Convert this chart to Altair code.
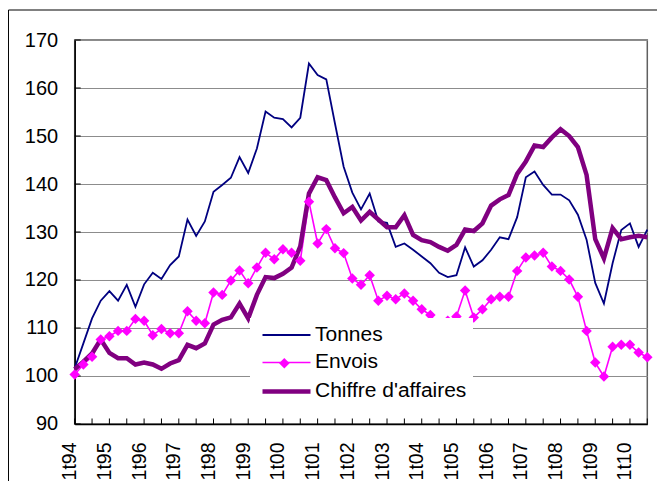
import altair as alt
import pandas as pd

years = ["94", "95", "96", "97", "98", "99", "00", "01", "02", "03",
         "04", "05", "06", "07", "08", "09", "10"]
quarters = [f"{q}t{y}" for y in years for q in (1, 2, 3, 4)][:67]
tick_quarters = quarters[::2]

series_names = ["Tonnes", "Envois", "Chiffre d'affaires"]
series_colors = ["#000080", "#FF00FF", "#800080"]
series_widths = [1.8, 1.6, 4.5]

tonnes = [101.6, 106.8, 112.0, 115.7, 117.7, 115.7, 119.0, 114.4, 119.1, 121.5,
          120.2, 123.1, 124.9, 132.6, 129.2, 132.2, 138.4, 139.8, 141.3, 145.6,
          142.3, 147.4, 155.1, 153.8, 153.5, 151.8, 153.8, 165.1, 162.7, 161.8,
          152.6, 143.6, 138.2, 134.7, 138.0, 132.2, 131.9, 126.9, 127.6, 126.3,
          124.9, 123.5, 121.5, 120.6, 121.0, 126.8, 122.8, 124.1, 126.3, 128.9,
          128.5, 133.1, 141.4, 142.6, 139.8, 137.8, 137.8, 136.6, 133.6, 128.4,
          119.4, 115.1, 123.5, 130.4, 131.8, 126.9, 130.5]

envois = [100.3, 102.4, 104.0, 107.6, 108.3, 109.4, 109.4, 111.9, 111.5, 108.5,
          109.8, 108.9, 108.9, 113.5, 111.5, 111.0, 117.4, 116.9, 119.9, 122.0,
          119.3, 122.6, 125.7, 124.3, 126.4, 125.7, 124.0, 136.3, 127.6, 130.6,
          126.6, 125.6, 120.3, 119.0, 121.0, 115.7, 116.7, 116.0, 117.2, 115.7,
          113.9, 112.7, 110.1, 111.5, 112.4, 117.8, 112.2, 113.9, 116.0, 116.5,
          116.5, 121.9, 124.7, 125.1, 125.7, 122.8, 121.9, 120.1, 116.5, 109.4,
          102.8, 99.9, 106.1, 106.5, 106.5, 104.9, 103.9]

chiffre = [101.4, 103.0, 104.7, 107.6, 104.8, 103.7, 103.7, 102.4, 102.8, 102.4,
           101.5, 102.6, 103.3, 106.5, 105.8, 106.8, 110.7, 111.7, 112.2, 115.1,
           112.0, 116.9, 120.6, 120.4, 121.3, 122.6, 127.0, 138.0, 141.4, 140.8,
           137.2, 133.9, 135.2, 132.4, 134.2, 132.6, 131.0, 131.0, 133.5, 129.4,
           128.3, 127.9, 126.9, 126.1, 127.3, 130.5, 130.2, 131.8, 135.5, 136.8,
           137.7, 142.1, 144.7, 148.0, 147.7, 149.7, 151.4, 150.0, 147.7, 141.9,
           128.5, 124.5, 130.8, 128.5, 128.9, 129.2, 128.9]

y_ticks = [90, 100, 110, 120, 130, 140, 150, 160, 170]

rows = []
for name, vals in zip(series_names, [tonnes, envois, chiffre]):
    for i, (q, v) in enumerate(zip(quarters, vals)):
        rows.append({"series": name, "quarter": q, "value": v, "i": i})
df = pd.DataFrame(rows)

FONT = "Liberation Sans"

x_scale = alt.Scale(type="point", padding=0, domain=quarters)
y_scale = alt.Scale(domain=[90, 170], nice=False, zero=False)

x_enc = alt.X(
    "quarter:N", scale=x_scale,
    axis=alt.Axis(
        values=tick_quarters,
        labelExpr="indexof(datum.value, '1t') == 0 ? datum.value : ''",
        labelAngle=-90, labelFont=FONT, labelFontSize=19.5, labelColor="black",
        labelOverlap=False, labelPadding=18, labelOffset=-5, tickSize=0,
        domainColor="black", domainWidth=1.5, grid=False, title=None,
    ),
)
y_enc = alt.Y(
    "value:Q", scale=y_scale,
    axis=alt.Axis(
        values=y_ticks, labelFont=FONT, labelFontSize=20, labelColor="black",
        labelPadding=17, tickSize=0, domainColor="black", domainWidth=1.5,
        grid=True, gridColor="#8c8c8c", gridWidth=1, title=None,
    ),
)

line_path = "M-0.6,0H4.2"

legend = alt.Legend(
    title=None, orient="none", legendX=175.3, legendY=278,
    symbolType=line_path, symbolSize=400,
    labelFont=FONT, labelFontSize=21, labelColor="black", labelOffset=34,
    padding=6, fillColor="white", rowPadding=6.5,
)

lines = alt.Chart(df).mark_line().encode(
    x=x_enc, y=y_enc,
    color=alt.Color("series:O", sort=series_names,
                    scale=alt.Scale(type="ordinal", domain=series_names, range=series_colors),
                    legend=legend),
    strokeWidth=alt.StrokeWidth("series:O", sort=series_names,
                                scale=alt.Scale(type="ordinal", domain=series_names,
                                                range=series_widths),
                                legend=legend),
    order=alt.Order("i:Q"),
)

points = alt.Chart(df).transform_filter(
    alt.datum.series == "Envois"
).mark_point(filled=True, size=110, opacity=1, color="#FF00FF").encode(
    x=x_enc, y=y_enc,
    shape=alt.Shape("series:N",
                    scale=alt.Scale(domain=["Envois"], range=["diamond"]),
                    legend=alt.Legend(
                        title=None, orient="none", legendX=204.1, legendY=317.8,
                        padding=0, labelExpr="''", labelFontSize=8,
                        symbolSize=110, symbolFillColor="#FF00FF",
                        symbolStrokeColor="#FF00FF", symbolStrokeWidth=0,
                        symbolOpacity=1, zindex=3,
                    )),
)

# inward tick marks (x every two quarters, y every 10)
x_ticks = alt.Chart(pd.DataFrame({"quarter": tick_quarters})).mark_rule(
    color="black", strokeWidth=1
).encode(x=alt.X("quarter:N", scale=x_scale), y=alt.value(384), y2=alt.value(378.5))

y_tick_marks = alt.Chart(pd.DataFrame({"value": y_ticks})).mark_rule(
    color="black", strokeWidth=1
).encode(y=alt.Y("value:Q", scale=y_scale), x=alt.value(0), x2=alt.value(6))

# outer frame (left and top edges only, as in the reference)
frame_left = alt.Chart(pd.DataFrame({"f": [0]})).mark_rule(
    color="black", strokeWidth=1
).encode(x=alt.value(-66.2), y=alt.value(-30), y2=alt.value(445))
frame_top = alt.Chart(pd.DataFrame({"f": [0]})).mark_rule(
    color="black", strokeWidth=1
).encode(x=alt.value(-66.2), x2=alt.value(583), y=alt.value(-30))

chart = alt.layer(frame_left, frame_top, y_tick_marks, x_ticks, lines, points).properties(
    width=572.6, height=384,
    autosize=alt.AutoSizeParams(type="none"),
    padding={"left": 66.7, "top": 32, "right": 10, "bottom": 57},
).configure_view(
    stroke="#606060", strokeWidth=1.5
)

chart.save("out.html", embed_options={"renderer": "svg", "actions": False})
